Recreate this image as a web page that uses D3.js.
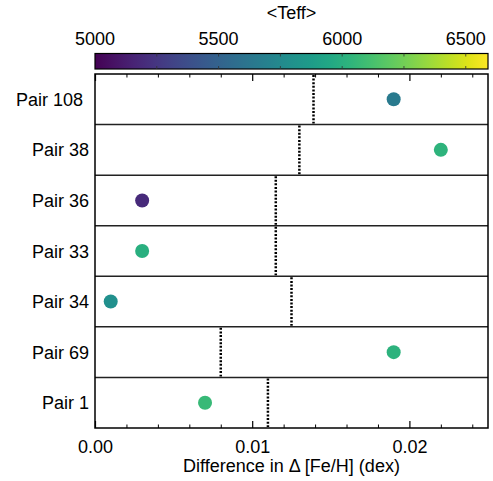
<!DOCTYPE html>
<html><head><meta charset="utf-8">
<script src="https://cdn.jsdelivr.net/npm/d3@7"></script>
<style>
html,body{margin:0;padding:0;background:#fff;}
text{font-family:"Liberation Sans",Arial,Helvetica,sans-serif;fill:#000;}
</style></head>
<body><svg id="c" width="493" height="481"></svg>
<script>
const pairs = ["Pair 108","Pair 38","Pair 36","Pair 33","Pair 34","Pair 69","Pair 1"];
const diffs = [0.019, 0.022, 0.003, 0.003, 0.001, 0.019, 0.007];
const refLines = [0.0139, 0.0130, 0.0115, 0.0115, 0.0125, 0.0080, 0.0110];
const teff = [5650, 6030, 5190, 6000, 5790, 6020, 6070];
const xTicks = [0.00, 0.01, 0.02];
const cbTicks = [5000, 5500, 6000, 6500];
const cbDomain = [5000, 6590];
const xDomain = [0, 0.025];

const FS = 18;
const svg = d3.select("#c");
const L = 95, R = 488, T = 74, B = 428;
const x = d3.scaleLinear().domain(xDomain).range([L, R]);
const y = d3.scaleBand().domain(pairs).range([T, B]).padding(0);
const cx = d3.scaleLinear().domain(cbDomain).range([L, R]);
const color = d3.scaleSequential(d3.interpolateViridis).domain(cbDomain);

// colorbar
const defs = svg.append("defs");
const grad = defs.append("linearGradient").attr("id","vg").attr("x1","0%").attr("x2","100%");
d3.range(0, 1.0001, 0.05).forEach(t => {
  grad.append("stop").attr("offset", (t*100)+"%").attr("stop-color", d3.interpolateViridis(t));
});
const cbT = 53.5, cbB = 69;
svg.append("rect").attr("x", L).attr("y", cbT).attr("width", R-L).attr("height", cbB-cbT)
  .attr("fill","url(#vg)").attr("stroke","#000").attr("stroke-width",1.2);
const cbMinor = d3.range(5250, 6590, 250);
svg.append("g").selectAll("line").data(cbMinor).join("line")
  .attr("x1", d=>cx(d)).attr("x2", d=>cx(d)).attr("y1", cbT).attr("y2", cbT+3)
  .attr("stroke","#333").attr("stroke-width",0.8);
svg.append("g").selectAll("line").data(cbMinor).join("line")
  .attr("x1", d=>cx(d)).attr("x2", d=>cx(d)).attr("y1", cbB).attr("y2", cbB-3)
  .attr("stroke","#333").attr("stroke-width",0.8);
svg.append("g").selectAll("text").data(cbTicks).join("text")
  .attr("x", d=>cx(d)).attr("y", 45).attr("text-anchor","middle")
  .attr("font-size", FS).text(d=>d);
svg.append("text").attr("x", (L+R)/2).attr("y", 19).attr("text-anchor","middle")
  .attr("font-size", FS).text("<Teff>");

// rows
const rows = svg.append("g");
rows.selectAll("line.sep").data(pairs.slice(1)).join("line").attr("class","sep")
  .attr("x1", L).attr("x2", R).attr("y1", d=>y(d)).attr("y2", d=>y(d))
  .attr("stroke","#222").attr("stroke-width",1.5);

// dotted reference lines
rows.selectAll("line.ref").data(pairs).join("line").attr("class","ref")
  .attr("x1", (d,i)=>x(refLines[i])).attr("x2", (d,i)=>x(refLines[i]))
  .attr("y1", d=>y(d)+1).attr("y2", d=>y(d)+y.bandwidth()-1)
  .attr("stroke","#000").attr("stroke-width",2.5).attr("stroke-dasharray","2,1.6");

// dots
rows.selectAll("circle").data(pairs).join("circle")
  .attr("cx", (d,i)=>x(diffs[i])).attr("cy", d=>y(d)+y.bandwidth()/2)
  .attr("r", 7).attr("fill", (d,i)=>color(teff[i]));

// y labels
svg.append("g").selectAll("text").data(pairs).join("text")
  .attr("x", (d,i)=> i===0 ? 83 : 89).attr("y", d=>y(d)+y.bandwidth()/2+6.5)
  .attr("text-anchor","end").attr("font-size", FS).text(d=>d);

// frame
svg.append("rect").attr("x", L).attr("y", T).attr("width", R-L).attr("height", B-T)
  .attr("fill","none").attr("stroke","#000").attr("stroke-width",1.5);

// x ticks (inward, bottom and top)
const minor = d3.range(0, 0.0251, 0.002).filter(v => Math.abs(v*100 - Math.round(v*100)) > 1e-6);
const axB = d3.axisBottom(x).tickValues(xTicks).tickSizeInner(-7).tickSizeOuter(0).tickFormat(d3.format(".2f")).tickPadding(12);
const gB = svg.append("g").attr("transform", `translate(0,${B})`).call(axB);
gB.select(".domain").remove();
gB.selectAll("line").attr("stroke","#000").attr("stroke-width",1.2);
gB.selectAll("text").attr("font-size",FS).attr("font-family","Liberation Sans, Arial, sans-serif").attr("fill","#000");
const gBm = svg.append("g").attr("transform", `translate(0,${B})`)
  .call(d3.axisBottom(x).tickValues(minor).tickSizeInner(-3.5).tickSizeOuter(0).tickFormat(""));
gBm.select(".domain").remove();
gBm.selectAll("line").attr("stroke","#000").attr("stroke-width",1);
const gT = svg.append("g").attr("transform", `translate(0,${T})`)
  .call(d3.axisTop(x).tickValues(xTicks).tickSizeInner(-7).tickSizeOuter(0).tickFormat(""));
gT.select(".domain").remove();
gT.selectAll("line").attr("stroke","#000").attr("stroke-width",1.2);
const gTm = svg.append("g").attr("transform", `translate(0,${T})`)
  .call(d3.axisTop(x).tickValues(minor).tickSizeInner(-3.5).tickSizeOuter(0).tickFormat(""));
gTm.select(".domain").remove();
gTm.selectAll("line").attr("stroke","#000").attr("stroke-width",1);

svg.append("text").attr("x", (L+R)/2).attr("y", 472).attr("text-anchor","middle")
  .attr("font-size", FS).text("Difference in \u0394 [Fe/H] (dex)");
</script></body></html>
